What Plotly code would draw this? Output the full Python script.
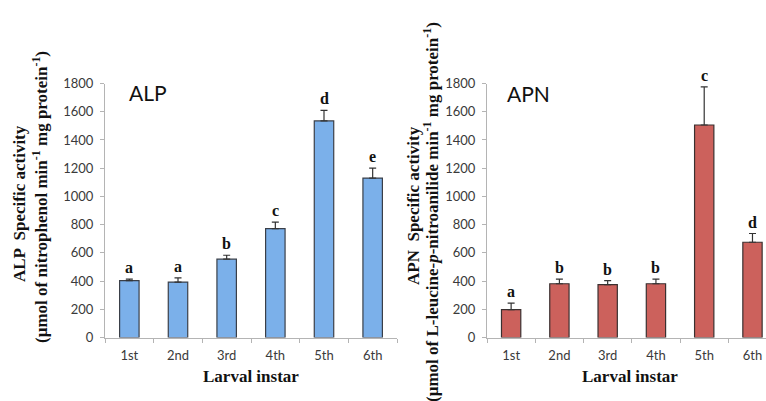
import plotly.graph_objects as go

instars = ["1st", "2nd", "3rd", "4th", "5th", "6th"]

alp_values = [403, 393, 555, 772, 1535, 1130]
alp_errors = [10, 30, 28, 45, 75, 70]
alp_letters = ["a", "a", "b", "c", "d", "e"]

apn_values = [197, 381, 374, 381, 1506, 675]
apn_errors = [47, 33, 29, 33, 270, 62]
apn_letters = ["a", "b", "b", "b", "c", "d"]

W, H = 766, 401
SERIF = "Liberation Serif"
SANS = "Lato"
TICK_COLOR = "#3a3a3a"
AXIS_COLOR = "#b4b4b4"

fig = go.Figure()

fig.add_trace(go.Bar(
    x=instars, y=alp_values, xaxis="x", yaxis="y",
    marker=dict(color="#7bb0ea", line=dict(color="#3a3f48", width=1.2)),
    error_y=dict(type="data", symmetric=False, array=alp_errors,
                 arrayminus=[0] * len(alp_errors), color="#333333",
                 thickness=1.2, width=3.5),
    showlegend=False,
))
fig.add_trace(go.Bar(
    x=instars, y=apn_values, xaxis="x2", yaxis="y2",
    marker=dict(color="#cc615c", line=dict(color="#3a3030", width=1.2)),
    error_y=dict(type="data", symmetric=False, array=apn_errors,
                 arrayminus=[0] * len(apn_errors), color="#333333",
                 thickness=1.2, width=3.5),
    showlegend=False,
))

def px_x(v):
    return v / W

def px_y(v):
    return 1 - v / H

ydom = [px_y(337.5), px_y(83.5)]

xaxis_common = dict(
    type="category", showline=True, linecolor=AXIS_COLOR, linewidth=1,
    ticks="outside", tickson="boundaries", ticklen=4, tickcolor=AXIS_COLOR,
    tickfont=dict(family=SANS, size=13, color=TICK_COLOR),
    ticklabelstandoff=6, showgrid=False, zeroline=False, automargin=False,
)
yaxis_common = dict(
    range=[0, 1800], tickvals=list(range(0, 1801, 200)),
    showline=True, linecolor=AXIS_COLOR, linewidth=1,
    ticks="outside", ticklen=4, tickcolor=AXIS_COLOR,
    tickfont=dict(family=SANS, size=13, color=TICK_COLOR),
    ticklabelstandoff=4, showgrid=False, zeroline=False, domain=ydom,
    automargin=False,
)

fig.update_layout(
    width=W, height=H, autosize=False,
    margin=dict(l=0, r=0, t=0, b=0, pad=0, autoexpand=False),
    paper_bgcolor="white", plot_bgcolor="white",
    bargap=0.6,
    xaxis=dict(domain=[px_x(105), px_x(397)], range=[-0.5, 5.5], anchor="y", **xaxis_common),
    yaxis=dict(anchor="x", **yaxis_common),
    xaxis2=dict(domain=[px_x(487), 1.0], range=[-0.5, 5.28], anchor="y2", **xaxis_common),
    yaxis2=dict(anchor="x2", **yaxis_common),
)

annotations = []
for xref, yref, vals, errs, letters in [
    ("x", "y", alp_values, alp_errors, alp_letters),
    ("x2", "y2", apn_values, apn_errors, apn_letters),
]:
    for cat, v, e, lt in zip(instars, vals, errs, letters):
        annotations.append(dict(
            x=cat, y=v + e, xref=xref, yref=yref, text="<b>%s</b>" % lt,
            showarrow=False, yanchor="bottom", yshift=1,
            font=dict(family=SERIF, size=16, color="#111111"),
        ))

# panel labels
annotations.append(dict(x=px_x(127), y=px_y(92), xref="paper", yref="paper",
                        text="ALP", showarrow=False, xanchor="left", yanchor="middle",
                        font=dict(family=SANS, size=21, color="#111111")))
annotations.append(dict(x=px_x(505), y=px_y(93), xref="paper", yref="paper",
                        text="APN", showarrow=False, xanchor="left", yanchor="middle",
                        font=dict(family=SANS, size=21, color="#111111")))

# x-axis titles
for cx in (251, 630):
    annotations.append(dict(x=px_x(cx), y=px_y(376), xref="paper", yref="paper",
                            text="<b>Larval instar</b>", showarrow=False,
                            xanchor="center", yanchor="middle",
                            font=dict(family=SERIF, size=17, color="#111111")))

# y-axis titles
ytitle_font = dict(family=SERIF, size=17, color="#111111")
annotations += [
    dict(x=px_x(20), y=px_y(204), xref="paper", yref="paper", textangle=-90,
         text="<b>ALP  Specific activity</b>", showarrow=False,
         xanchor="center", yanchor="middle", font=ytitle_font),
    dict(x=px_x(40), y=px_y(197), xref="paper", yref="paper", textangle=-90,
         text="<b>(µmol of nitrophenol min<sup>-1</sup> mg protein<sup>-1</sup>)</b>",
         showarrow=False, xanchor="center", yanchor="middle", font=ytitle_font),
    dict(x=px_x(413), y=px_y(206), xref="paper", yref="paper", textangle=-90,
         text="<b>APN  Specific activity</b>", showarrow=False,
         xanchor="center", yanchor="middle", font=ytitle_font),
    dict(x=px_x(431), y=px_y(212), xref="paper", yref="paper", textangle=-90,
         text="<b>(µmol of L-leucine-<i>p</i>-nitroanilide min<sup>-1</sup> mg protein<sup>-1</sup>)</b>",
         showarrow=False, xanchor="center", yanchor="middle", font=ytitle_font),
]

fig.update_layout(annotations=annotations)
fig.write_html("out.html",
               config={"displayModeBar": False},
               post_script="document.body.style.margin='0px';document.body.style.overflow='hidden';")
